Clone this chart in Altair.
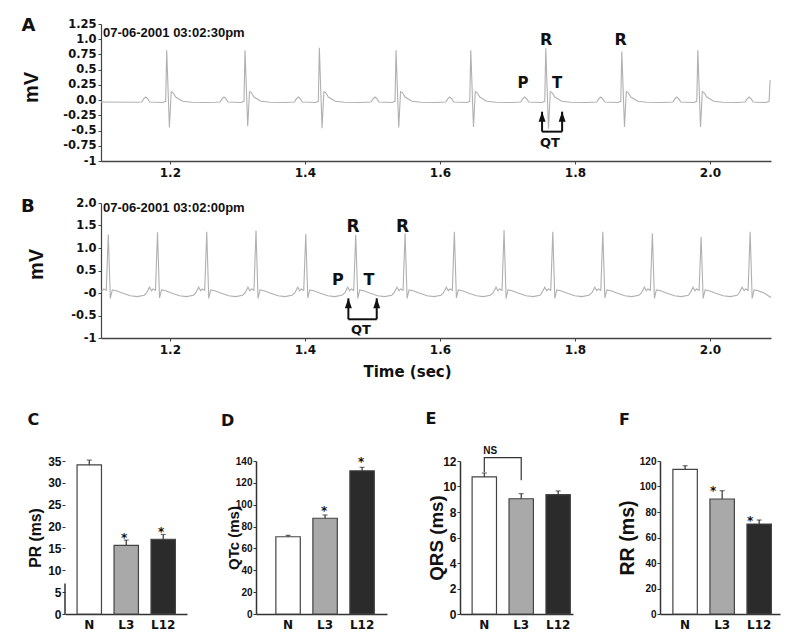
import altair as alt
import pandas as pd

FONT_W = "DejaVu Sans"
FONT_N = "Liberation Sans"
INK = "#111111"
AXIS_INK = "#333333"
TRACE = "#b0b0b0"

X_DOMAIN = [1.098, 2.0904]
X_TICKS = [1.2, 1.4, 1.6, 1.8, 2.0]

# ---------------- Panel A (ECG, 03:02:30pm) ----------------
A_BEAT_T = [1.1953, 1.3113, 1.4214, 1.5350, 1.6457, 1.7568, 1.8694, 1.9820, 2.0891]
A_R_MV = [0.82, 0.82, 0.86, 0.82, 0.82, 0.85, 0.80, 0.82, 0.33]
A_S_MV = [-0.45, -0.43, -0.46, -0.45, -0.44, -0.47, -0.44, -0.44, -0.44]
A_PRE_DT = [-0.0444, -0.0370, -0.0341, -0.0311, -0.0281, -0.0252, -0.0059, -0.0015]
A_PRE_MV = [-0.035, -0.030, 0.020, 0.050, 0.020, -0.030, -0.040, -0.020]
A_S_DT = 0.0040
A_POST_DT = [0.0067, 0.0096, 0.0133, 0.0237, 0.0370, 0.0593]
A_POST_MV = [0.14, 0.12, 0.05, -0.02, -0.035, -0.04]
A_LEAD = [(1.098, -0.03)]
A_TAIL = []
A_Y_TICKS = [1.25, 1.0, 0.75, 0.5, 0.25, 0.0, -0.25, -0.5, -0.75, -1.0]
A_Y_LABELS = ["1.25", "1.0", "0.75", "0.5", "0.25", "0.0", "-0.25", "-0.5", "-0.75", "-1"]
A_DATE = "07-06-2001 03:02:30pm"
A_DATE_T, A_DATE_MV = 1.101, 1.04
A_R_LAB_T = [1.7573, 1.8676]
A_R_LAB_MV = 0.905
A_PT_TEXT = ["P", "T"]
A_PT_T = [1.7230, 1.7735]
A_PT_MV = 0.199
A_QT_T, A_QT_MV = 1.763, -0.77
A_ARROW_T = [1.7513, 1.7810]
A_ARROW_TIP, A_ARROW_BASE = -0.19, -0.518

# ---------------- Panel B (ECG, 03:02:00pm) ----------------
B_BEAT_T = [1.1088, 1.1817, 1.2546, 1.3276, 1.4013, 1.4753, 1.5484, 1.6214,
            1.6950, 1.7672, 1.8413, 1.9147, 1.9869, 2.0595]
B_R_MV = [1.30, 1.35, 1.36, 1.39, 1.31, 1.29, 1.33, 1.36, 1.40, 1.36, 1.36, 1.33, 1.25, 1.36]
B_S_MV = [-0.12, -0.11, -0.12, -0.12, -0.11, -0.12, -0.12, -0.11, -0.12, -0.12, -0.11, -0.12, -0.12, -0.12]
B_PRE_DT = [-0.0163, -0.0119, -0.0089, -0.0067, -0.0030]
B_PRE_MV = [0.00, 0.13, 0.05, 0.09, 0.06]
B_S_DT = 0.0030
B_POST_DT = [0.0059, 0.0119, 0.0207, 0.0326, 0.0430, 0.0533]
B_POST_MV = [0.07, 0.05, 0.00, -0.06, -0.08, -0.05]
B_LEAD = [(1.098, 0.04)]
B_TAIL = [(2.0904, -0.10)]
B_Y_TICKS = [2.0, 1.5, 1.0, 0.5, 0.0, -0.5, -1.0]
B_Y_LABELS = ["2.0", "1.5", "1.0", "0.5", "-0", "-0.5", "-1"]
B_DATE = "07-06-2001 03:02:00pm"
B_DATE_T, B_DATE_MV = 1.101, 1.80
B_R_LAB_T = [1.4713, 1.5447]
B_R_LAB_MV = 1.356
B_PT_TEXT = ["P", "T"]
B_PT_T = [1.4490, 1.4950]
B_PT_MV = 0.178
B_QT_T, B_QT_MV = 1.483, -0.911
B_ARROW_T = [1.4644, 1.5064]
B_ARROW_TIP, B_ARROW_BASE = -0.118, -0.584

# ---------------- Bar panels ----------------
CATS = ["N", "L3", "L12"]
BAR_FILLS = ["#ffffff", "#a9a9a9", "#2b2b2b"]

C_VALS = [34.1, 15.7, 17.1]
C_ERRS = [35.2, 16.9, 18.2]
C_TICKS = [0, 5, 10, 15, 20, 25, 30, 35]
C_STAR_CATS = ["L3", "L12"]
C_STAR_Y = [18.1, 19.4]
C_AXIS_SEGMENT = [0, 7]

D_VALS = [70.7, 87.6, 131.1]
D_ERRS = [72.0, 90.6, 134.2]
D_TICKS = [0, 20, 40, 60, 80, 100, 120, 140]
D_STAR_CATS = ["L3", "L12"]
D_STAR_Y = [96.7, 141.6]

E_VALS = [10.75, 9.04, 9.36]
E_ERRS = [11.06, 9.44, 9.65]
E_TICKS = [0, 2, 4, 6, 8, 10, 12]
E_NS_CATS = ["N", "N", "L3", "L3"]
E_NS_Y = [11.14, 12.26, 12.26, 10.5]
E_NS_TEXT_Y = 12.55

F_VALS = [113.5, 90.2, 70.6]
F_ERRS = [116.3, 96.7, 73.7]
F_TICKS = [0, 20, 40, 60, 80, 100, 120]
F_STAR_CATS = ["L3", "L12"]
F_STAR_Y = [99.0, 75.0]


def label_expr(vals, labels):
    parts = [f"abs(datum.value - ({v})) < 1e-6 ? '{l}'" for v, l in zip(vals, labels)]
    return " : ".join(parts) + " : ''"


def build_trace(beats, r_mv, s_mv, pre_dt, pre_mv, s_dt, post_dt, post_mv, lead, tail):
    t, v = [p[0] for p in lead], [p[1] for p in lead]
    for bt, r, s in zip(beats, r_mv, s_mv):
        for d, m in zip(pre_dt, pre_mv):
            t.append(bt + d); v.append(m)
        t.append(bt); v.append(r)
        t.append(bt + s_dt); v.append(s)
        for d, m in zip(post_dt, post_mv):
            t.append(bt + d); v.append(m)
    for p in tail:
        t.append(p[0]); v.append(p[1])
    df = pd.DataFrame({"t": t, "mv": v})
    df = df[(df.t >= X_DOMAIN[0]) & (df.t <= X_DOMAIN[1])].sort_values("t")
    return df


def ecg_panel(trace, y_dom, y_ticks, y_labels, height, letter, letter_dx, letter_dy,
              date, date_t, date_mv, r_t, r_mv, r_size, pt_text, pt_t, pt_mv, pt_size,
              qt_t, qt_mv, arrow_t, tip, base, mv_x, mv_y, show_time):
    xs = alt.Scale(domain=X_DOMAIN, range=[36, 706], nice=False, zero=False)
    ys = alt.Scale(domain=y_dom, nice=False, zero=False)
    xaxis_kw = dict(values=X_TICKS, format=".1f", tickSize=3, labelPadding=3,
                    labelFont=FONT_W, labelFontWeight="bold", labelFontSize=12,
                    labelColor=INK, domainColor="#444", domainWidth=1.5,
                    tickColor="#444", grid=False, labelFlush=False)
    if show_time:
        xaxis = alt.Axis(title="Time (sec)", titleX=342, titleY=38, titleBaseline="alphabetic",
                         titleAlign="center", titleFont=FONT_W, titleFontSize=15,
                         titleFontWeight="bold", titleColor=INK, **xaxis_kw)
    else:
        xaxis = alt.Axis(title=None, **xaxis_kw)
    yaxis = alt.Axis(values=y_ticks, labelExpr=label_expr(y_ticks, y_labels), title="mV",
                     titleFont=FONT_N, titleFontSize=20, titleFontWeight="bold",
                     titleX=mv_x, titleY=mv_y, titleBaseline="alphabetic", titleAngle=270,
                     titleAlign="center", titleColor=INK, offset=-36, tickSize=3,
                     labelPadding=2, labelFont=FONT_W, labelFontSize=11.5,
                     labelFontWeight="bold", labelColor=INK, domainColor="#444",
                     domainWidth=1.2, tickColor="#444", grid=False, labelOverlap=False)

    def X(f):
        return alt.X(f, type="quantitative", scale=xs, axis=xaxis)

    def Y(f):
        return alt.Y(f, type="quantitative", scale=ys, axis=yaxis)

    line = alt.Chart(trace).mark_line(color=TRACE, strokeWidth=1.1).encode(x=X("t"), y=Y("mv"))
    date_l = alt.Chart(pd.DataFrame({"t": [date_t], "mv": [date_mv], "txt": [date]})).mark_text(
        align="left", baseline="alphabetic", font=FONT_N, fontSize=13, fontWeight="bold",
        fill=INK).encode(x=X("t"), y=Y("mv"), text="txt:N")
    r_l = alt.Chart(pd.DataFrame({"t": r_t, "mv": [r_mv] * len(r_t), "txt": ["R"] * len(r_t)})).mark_text(
        align="center", baseline="alphabetic", font=FONT_W, fontSize=r_size, fontWeight="bold",
        fill=INK).encode(x=X("t"), y=Y("mv"), text="txt:N")
    pt_l = alt.Chart(pd.DataFrame({"t": pt_t, "mv": [pt_mv] * len(pt_t), "txt": pt_text})).mark_text(
        align="center", baseline="alphabetic", font=FONT_W, fontSize=pt_size, fontWeight="bold",
        fill=INK).encode(x=X("t"), y=Y("mv"), text="txt:N")
    qt_l = alt.Chart(pd.DataFrame({"t": [qt_t], "mv": [qt_mv], "txt": ["QT"]})).mark_text(
        align="center", baseline="alphabetic", font=FONT_W, fontSize=13, fontWeight="bold",
        fill=INK).encode(x=X("t"), y=Y("mv"), text="txt:N")
    arr = pd.DataFrame({"t": arrow_t, "tip": [tip] * 2, "base": [base] * 2})
    shafts = alt.Chart(arr).mark_rule(color=INK, strokeWidth=2).encode(
        x=X("t"), y=Y("base"), y2="tip:Q")
    bottom = alt.Chart(pd.DataFrame({"t1": [arrow_t[0]], "t2": [arrow_t[1]], "base": [base]})).mark_rule(
        color=INK, strokeWidth=2).encode(x=X("t1"), x2="t2:Q", y=Y("base"))
    heads = alt.Chart(arr).mark_point(shape="M0,0L0.7,2L-0.7,2Z", filled=True, size=100,
                                      color=INK, opacity=1, strokeWidth=0).encode(
        x=X("t"), y=Y("tip"))
    return alt.layer(line, date_l, r_l, pt_l, qt_l, shafts, bottom, heads).properties(
        width=706, height=height,
        title=alt.TitleParams(letter, anchor="start", frame="group", dx=letter_dx, dy=letter_dy,
                              offset=0, baseline="alphabetic", font=FONT_W, fontSize=18,
                              fontWeight="bold", color=INK))


def bar_panel(letter, letter_dx, letter_dy, vals, errs, y_max, y_ticks, y_title, title_size,
              title_x, tick_size, width, pad_outer, align, star_cats=None, star_y=None,
              star_dx=-1, axis_segment=None, ns_cats=None, ns_y=None, ns_text_y=None):
    h = 153
    xs = alt.Scale(domain=CATS, paddingInner=0.34, paddingOuter=pad_outer, align=align)
    xaxis = alt.Axis(title=None, labelAngle=0, ticks=False, tickSize=0, labelPadding=5,
                     labelFont=FONT_W, labelFontWeight="bold", labelFontSize=12,
                     labelColor=INK, domainColor=AXIS_INK, domainWidth=1.5)
    ys = alt.Scale(domain=[0, y_max], nice=False, zero=True)
    yaxis = alt.Axis(values=y_ticks, title=y_title, titleFont=FONT_N, titleFontWeight="bold",
                     titleFontSize=title_size, titleX=title_x, titleY=h / 2,
                     titleBaseline="alphabetic", titleAlign="center", titleAngle=270,
                     titleColor=INK, labelFont=FONT_N, labelFontWeight="bold",
                     labelFontSize=tick_size, labelColor=INK, labelPadding=1, tickSize=3,
                     tickColor=AXIS_INK, domain=(axis_segment is None), domainColor=AXIS_INK,
                     domainWidth=1.5, grid=False, labelOverlap=False)

    def X(f):
        return alt.X(f, type="nominal", sort=CATS, scale=xs, axis=xaxis)

    def Y(f):
        return alt.Y(f, type="quantitative", scale=ys, axis=yaxis)

    df = pd.DataFrame({"g": CATS, "v": vals, "e": errs})
    bars = alt.Chart(df).mark_bar(stroke="#444", strokeWidth=1.2).encode(
        x=X("g"), y=Y("v"),
        fill=alt.Fill("g:N", scale=alt.Scale(domain=CATS, range=BAR_FILLS), legend=None))
    err = alt.Chart(df).mark_rule(color=AXIS_INK, strokeWidth=1.2).encode(
        x=X("g"), y=Y("v"), y2="e:Q")
    caps = alt.Chart(df).mark_tick(color=AXIS_INK, size=5, thickness=1.2).encode(
        x=X("g"), y=Y("e"))
    layers = [bars, err, caps]
    if star_cats:
        layers.append(alt.Chart(pd.DataFrame({"g": star_cats, "s": star_y, "txt": ["*"] * len(star_cats)})).mark_text(
            font=FONT_W, fontSize=12, fontWeight="bold", fill=INK, baseline="middle",
            dx=star_dx, dy=3).encode(x=X("g"), y=Y("s"), text="txt:N"))
    if axis_segment:
        layers.append(alt.Chart(pd.DataFrame({"lo": [axis_segment[0]], "hi": [axis_segment[1]]})).mark_rule(
            color=AXIS_INK, strokeWidth=1.5).encode(x=alt.value(0), y=Y("lo"), y2="hi:Q"))
    if ns_cats:
        layers.append(alt.Chart(pd.DataFrame({"g": ns_cats, "b": ns_y, "o": [0, 1, 2, 3]})).mark_line(
            color=AXIS_INK, strokeWidth=1.2).encode(x=X("g"), y=Y("b"), order="o:Q"))
        layers.append(alt.Chart(pd.DataFrame({"g": ["N"], "b": [ns_text_y], "txt": ["NS"]})).mark_text(
            align="left", baseline="alphabetic", dx=-1, font=FONT_N, fontSize=10,
            fontWeight="bold", fill=INK).encode(x=X("g"), y=Y("b"), text="txt:N"))
    return alt.layer(*layers).properties(
        width=width, height=h,
        title=alt.TitleParams(letter, anchor="start", frame="group", dx=letter_dx, dy=letter_dy,
                              offset=0, baseline="alphabetic", font=FONT_W, fontSize=16,
                              fontWeight="bold", color=INK))


def spacer(w, h):
    return alt.Chart(pd.DataFrame({"s": [0]})).mark_point(opacity=0).encode(
        x=alt.X("s:Q", axis=None), y=alt.Y("s:Q", axis=None)).properties(width=w, height=h)


trace_a = build_trace(A_BEAT_T, A_R_MV, A_S_MV, A_PRE_DT, A_PRE_MV, A_S_DT, A_POST_DT, A_POST_MV, A_LEAD, A_TAIL)
trace_b = build_trace(B_BEAT_T, B_R_MV, B_S_MV, B_PRE_DT, B_PRE_MV, B_S_DT, B_POST_DT, B_POST_MV, B_LEAD, B_TAIL)

panel_a = ecg_panel(trace_a, [-1, 1.25], A_Y_TICKS, A_Y_LABELS, 137, "A", -43.5, 31,
                    A_DATE, A_DATE_T, A_DATE_MV, A_R_LAB_T, A_R_LAB_MV, 16, A_PT_TEXT, A_PT_T,
                    A_PT_MV, 15, A_QT_T, A_QT_MV, A_ARROW_T, A_ARROW_TIP, A_ARROW_BASE,
                    -64, 63, False)
panel_b = ecg_panel(trace_b, [-1, 2], B_Y_TICKS, B_Y_LABELS, 135, "B", -44, 33,
                    B_DATE, B_DATE_T, B_DATE_MV, B_R_LAB_T, B_R_LAB_MV, 17, B_PT_TEXT, B_PT_T,
                    B_PT_MV, 16, B_QT_T, B_QT_MV, B_ARROW_T, B_ARROW_TIP, B_ARROW_BASE,
                    -59, 61, True)

panel_c = bar_panel("C", -37.5, -14.5, C_VALS, C_ERRS, 35, C_TICKS, "PR (ms)", 15.8, -24.5, 12,
                    122, 0.32, 0.51, C_STAR_CATS, C_STAR_Y, -2, axis_segment=C_AXIS_SEGMENT)
panel_d = bar_panel("D", -35, -14, D_VALS, D_ERRS, 140, D_TICKS, "QTc (ms)", 15, -18, 10,
                    131, 0.44, 0.61, D_STAR_CATS, D_STAR_Y, -1)
panel_e = bar_panel("E", -34.5, -5.5, E_VALS, E_ERRS, 12, E_TICKS, "QRS (ms)", 18.8, -18, 12,
                    113, 0.2, 0.82, ns_cats=E_NS_CATS, ns_y=E_NS_Y, ns_text_y=E_NS_TEXT_Y)
panel_f = bar_panel("F", -41, -15.5, F_VALS, F_ERRS, 120, F_TICKS, "RR (ms)", 19.6, -27, 10,
                    120, 0.29, 0.6, F_STAR_CATS, F_STAR_Y, -9)

row3 = alt.hconcat(panel_c, spacer(69, 153), panel_d, spacer(73, 153), panel_e,
                   spacer(87, 153), panel_f, spacing=0, bounds="flush")

chart = alt.vconcat(panel_a, panel_b, spacer(706, 39), row3, spacing=42, bounds="flush").properties(
    padding={"left": 13, "top": 9, "right": 5, "bottom": 5}
).configure_view(stroke=None)

chart.save("out.html", embed_options={"renderer": "svg", "actions": False})
